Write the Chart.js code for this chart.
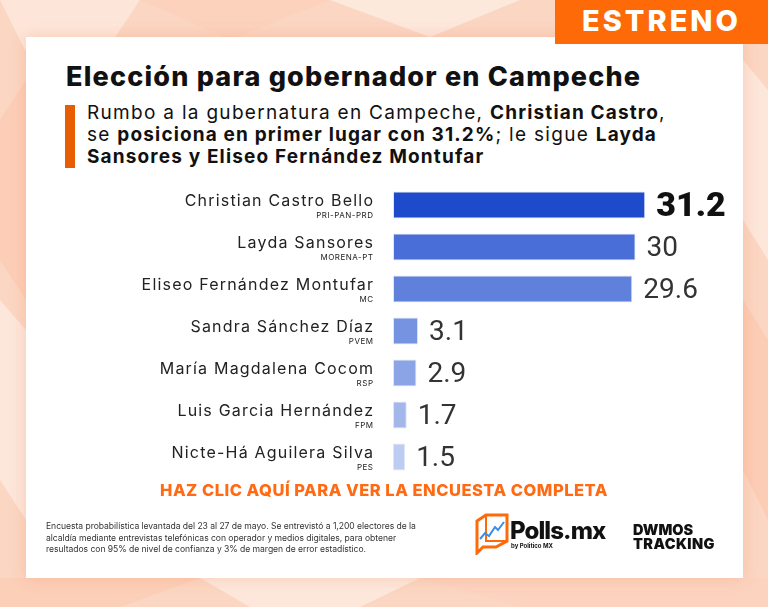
<!DOCTYPE html>
<html>
<head>
<meta charset="utf-8">
<script src="https://cdn.jsdelivr.net/npm/chart.js@4"></script>
<style>
  html, body { margin: 0; padding: 0; }
  body { width: 768px; height: 607px; position: relative; overflow: hidden;
    background: #fbd6c2; font-family: Inter, "Noto Sans", sans-serif; }
  #bg { position: absolute; left: 0; top: 0; }
  .card { position: absolute; left: 26px; top: 37px; width: 717px; height: 541px;
    background: #fff; box-shadow: 0 0 14px rgba(230, 120, 70, 0.25); }
  .badge { position: absolute; left: 555px; top: 0; width: 213px; height: 44px;
    background: #ff6a08; color: #fff; font: 800 29px Inter, sans-serif;
    text-align: center; line-height: 42px; letter-spacing: 3px; }
  .title { position: absolute; left: 66px; top: 60px; font: 800 27px Inter, sans-serif;
    color: #111; letter-spacing: 1.2px; white-space: nowrap; }
  .mark { position: absolute; left: 65px; top: 105px; width: 10px; height: 63px; background: #e85d04; }
  .sub { position: absolute; left: 87px; top: 102px; font: 400 19px/22px Inter, sans-serif;
    color: #111; letter-spacing: 1.3px; white-space: nowrap; }
  .sub b { font-weight: 700; letter-spacing: 1.15px; }
  .cta { position: absolute; left: 0; width: 768px; top: 480px; text-align: center;
    font: 800 16.5px Inter, sans-serif; color: #ff6a13; letter-spacing: 0.5px; }
  .note { position: absolute; left: 46px; top: 521px; font: 400 8.6px/11.5px Inter, sans-serif;
    color: #333; white-space: nowrap; letter-spacing: -0.05px; }
  .polls { position: absolute; left: 510px; top: 516px; font: 800 24px Inter, sans-serif;
    color: #111; letter-spacing: -0.9px; }
  .by { position: absolute; left: 511px; top: 542px; font: 700 6px Inter, sans-serif; color: #111; }
  .dw { position: absolute; left: 633px; top: 523px; font: 900 14.5px/13.5px Inter, sans-serif;
    color: #111; }
  .dw span { letter-spacing: 0.4px; }
  #chart { position: absolute; left: 0; top: 0; }
</style>
</head>
<body>
<svg id="bg" width="768" height="607">
  <polygon points="0,0 140,0 60,120" fill="#fde6d9"/>
  <polygon points="140,0 330,0 230,40" fill="#fcd2bd"/>
  <polygon points="330,0 520,0 430,37" fill="#fde8dc"/>
  <polygon points="0,120 26,80 26,300 0,260" fill="#fcceb7"/>
  <polygon points="0,300 26,330 26,520 0,480" fill="#fde6da"/>
  <polygon points="743,60 768,90 768,260 743,220" fill="#fde6da"/>
  <polygon points="743,300 768,340 768,520 743,470" fill="#fccdb5"/>
  <polygon points="0,578 200,578 120,607 0,607" fill="#fccfb8"/>
  <polygon points="200,578 420,578 360,607 250,607" fill="#fde7db"/>
  <polygon points="420,578 768,578 768,607 520,607" fill="#fcd3bf"/>
</svg>
<div class="card"></div>
<div class="badge">ESTRENO</div>
<div class="title">Elección para gobernador en Campeche</div>
<div class="mark"></div>
<div class="sub">Rumbo a la gubernatura en Campeche, <b>Christian Castro</b>,<br>
se <b>posiciona en primer lugar con 31.2%</b>; le sigue <b>Layda</b><br>
<b>Sansores y Eliseo Fernández Montufar</b></div>
<canvas id="chart" width="768" height="607"></canvas>
<div class="cta">HAZ CLIC AQUÍ PARA VER LA ENCUESTA COMPLETA</div>
<div class="note">Encuesta probabilística levantada del 23 al 27 de mayo. Se entrevistó a 1,200 electores de la<br>
alcaldía mediante entrevistas telefónicas con operador y medios digitales, para obtener<br>
resultados con 95% de nivel de confianza y 3% de margen de error estadístico.</div>
<svg style="position:absolute;left:474px;top:513px" width="36" height="42">
  <path d="M3 8 L12 2 L33 2 L33 28 L22 34 L9 34 L3 40 Z" fill="none" stroke="#ff6a08" stroke-width="3"/>
  <path d="M12 2 L12 28 L33 28" fill="none" stroke="#ff6a08" stroke-width="2"/>
  <path d="M6 26 L11 20 L15 23 L21 14 L24 17 L30 9" fill="none" stroke="#3a8ee6" stroke-width="2"/>
</svg>
<div class="polls">Polls.mx</div>
<div class="by">by Politico MX</div>
<div class="dw">DWMOS<br><span>TRACKING</span></div>

<script>
  const candidates = ['Christian Castro Bello', 'Layda Sansores', 'Eliseo Fernández Montufar',
    'Sandra Sánchez Díaz', 'María Magdalena Cocom', 'Luis Garcia Hernández', 'Nicte-Há Aguilera Silva'];
  const parties = ['PRI-PAN-PRD', 'MORENA-PT', 'MC', 'PVEM', 'RSP', 'FPM', 'PES'];
  const votes = [31.2, 30, 29.6, 3.1, 2.9, 1.7, 1.5];
  const barColors = ['#1e4bcb', '#4a6ed7', '#5f80db', '#7593e0', '#8ba4e5', '#a4b7eb', '#bdccf2'];

  // names, parties and values drawn next to the bars
  const labelPlugin = {
    id: 'labels',
    afterDatasetsDraw(chart) {
      const ctx = chart.ctx;
      const yScale = chart.scales.y;
      const bars = chart.getDatasetMeta(0).data;
      ctx.save();
      candidates.forEach(function(name, i) {
        const py = yScale.getPixelForValue(i);
        ctx.textAlign = 'right';
        ctx.textBaseline = 'alphabetic';
        ctx.fillStyle = '#222';
        ctx.font = '400 16px Inter, sans-serif';
        ctx.letterSpacing = '1.2px';
        ctx.fillText(name, 373 + 1.2, py + 1);
        ctx.font = '400 8px Inter, sans-serif';
        ctx.letterSpacing = '0.5px';
        ctx.fillText(parties[i], 373 + 0.5, py + 13);

        ctx.letterSpacing = '0px';
        ctx.textAlign = 'left';
        ctx.textBaseline = 'middle';
        if (i === 0) {
          ctx.fillStyle = '#111';
          ctx.font = '900 34px Roboto, sans-serif';
        } else {
          ctx.fillStyle = '#333';
          ctx.font = '400 28px Roboto, sans-serif';
        }
        ctx.fillText(String(votes[i]), bars[i].x + 11, py + 2);
      });
      ctx.restore();
    }
  };

  new Chart(document.getElementById('chart'), {
    type: 'bar',
    data: {
      labels: candidates,
      datasets: [{
        data: votes,
        backgroundColor: barColors,
        borderColor: '#dfe5f4',
        borderWidth: 1,
        borderSkipped: false,
        barPercentage: 0.64,
        categoryPercentage: 1
      }]
    },
    options: {
      indexAxis: 'y',
      responsive: false,
      animation: false,
      layout: { padding: { left: 393, right: 92, top: 184, bottom: 129 } },
      scales: {
        x: { display: false, min: 0, max: 35 },
        y: { display: false }
      },
      plugins: { legend: { display: false }, tooltip: { enabled: false } }
    },
    plugins: [labelPlugin]
  });
</script>
</body>
</html>
